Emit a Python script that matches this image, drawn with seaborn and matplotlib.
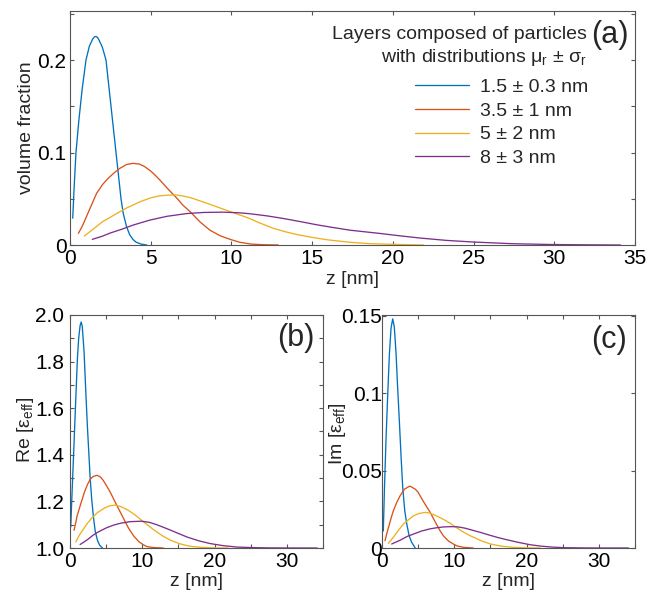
import numpy as np
import pandas as pd
import matplotlib
matplotlib.use("Agg")
import matplotlib.pyplot as plt
import seaborn as sns
from matplotlib.ticker import FixedLocator, FixedFormatter
from matplotlib.lines import Line2D

# ---------------- data ----------------
series_labels = ["1.5 ± 0.3 nm", "3.5 ± 1 nm", "5 ± 2 nm", "8 ± 3 nm"]
colors = ["#0072BD", "#D95319", "#EDB120", "#7E2F8E"]
legend_title = "Layers composed of particles\nwith distributions $\\mu_\\mathrm{r}$ ± $\\sigma_\\mathrm{r}$"

# (a) volume fraction
a_blue_z = [0.17, 0.25, 0.37, 0.55, 0.75, 0.99, 1.2, 1.4, 1.5, 1.6, 1.7, 1.8, 2.0, 2.1, 2.23, 2.54, 2.85, 3.16, 3.3, 3.5, 3.7, 3.9, 4.1, 4.4, 4.75]
a_blue_v = [0.029, 0.06, 0.10, 0.135, 0.168, 0.20, 0.215, 0.2225, 0.2248, 0.2255, 0.2245, 0.2215, 0.214, 0.208, 0.20, 0.15, 0.10, 0.05, 0.034, 0.02, 0.011, 0.006, 0.003, 0.001, 0.0]
a_red_z = [0.52, 0.75, 0.93, 1.1, 1.3, 1.5, 1.65, 1.85, 2.0, 2.25, 2.48, 2.8, 3.1, 3.5, 3.9, 4.3, 4.6, 5.0, 5.3, 5.58, 6.1, 6.6, 7.0, 7.5, 8.05, 8.67, 9.3, 9.9, 10.5, 11.2, 12.0, 12.9]
a_red_v = [0.0126, 0.02, 0.027, 0.034, 0.042, 0.050, 0.056, 0.061, 0.065, 0.070, 0.074, 0.079, 0.083, 0.087, 0.0883, 0.0875, 0.085, 0.080, 0.075, 0.070, 0.060, 0.051, 0.043, 0.035, 0.025, 0.016, 0.010, 0.0062, 0.003, 0.001, 0.0003, 0.0]
a_yel_z = [0.89, 1.2, 1.5, 2.0, 2.5, 2.89, 3.5, 4.0, 4.34, 5.0, 5.5, 6.1, 6.6, 7.0, 7.5, 8.0, 8.5, 9.3, 10.1, 11.0, 11.8, 12.6, 13.3, 14.0, 15.1, 16.0, 17.3, 18.5, 19.8, 21.0, 21.9]
a_yel_v = [0.0097, 0.014, 0.018, 0.025, 0.030, 0.034, 0.040, 0.044, 0.0468, 0.051, 0.053, 0.054, 0.054, 0.053, 0.051, 0.048, 0.045, 0.040, 0.035, 0.0295, 0.0235, 0.018, 0.0145, 0.0115, 0.0079, 0.0055, 0.003, 0.0015, 0.0008, 0.0003, 0.0]
a_pur_z = [1.38, 2.0, 2.5, 3.2, 3.92, 4.96, 6.0, 7.23, 8.3, 9.5, 10.5, 11.15, 12.2, 13.2, 14.3, 15.3, 16.3, 17.35, 18.3, 19.2, 20.4, 21.7, 23.3, 25.0, 27.4, 29.9, 32.0, 34.1]
a_pur_v = [0.0061, 0.0095, 0.013, 0.017, 0.0216, 0.027, 0.031, 0.034, 0.0352, 0.0355, 0.0348, 0.0338, 0.0315, 0.0287, 0.0252, 0.0218, 0.0189, 0.016, 0.0142, 0.0125, 0.010, 0.0075, 0.005, 0.0032, 0.0014, 0.0005, 0.0002, 0.0]

# (b) Re[eps_eff]
b_blue_z = [0.1, 0.3, 0.56, 0.8, 1.02, 1.2, 1.4, 1.55, 1.7, 1.95, 2.2, 2.41, 2.6, 2.78, 3.0, 3.24, 3.5, 3.8, 4.1, 4.5]
b_blue_v = [1.09, 1.25, 1.45, 1.64, 1.81, 1.90, 1.955, 1.97, 1.95, 1.84, 1.66, 1.52, 1.41, 1.305, 1.21, 1.133, 1.07, 1.033, 1.012, 1.0]
b_red_z = [0.56, 0.8, 1.0, 1.25, 1.49, 1.75, 2.0, 2.41, 2.8, 3.2, 3.75, 4.2, 4.6, 5.0, 5.56, 6.2, 6.94, 7.4, 8.1, 8.8, 9.5, 10.2, 10.65, 11.5, 12.9]
b_red_v = [1.076, 1.11, 1.14, 1.165, 1.19, 1.215, 1.24, 1.272, 1.295, 1.307, 1.312, 1.305, 1.29, 1.27, 1.24, 1.20, 1.155, 1.127, 1.085, 1.052, 1.028, 1.013, 1.006, 1.002, 1.0]
b_yel_z = [0.79, 1.2, 1.5, 2.0, 2.41, 3.0, 3.8, 4.8, 5.5, 6.2, 6.94, 8.0, 9.0, 10.1, 11.5, 12.9, 14.0, 15.2, 16.5, 18.0, 20.0, 21.9]
b_yel_v = [1.026, 1.05, 1.065, 1.088, 1.106, 1.128, 1.152, 1.172, 1.181, 1.184, 1.179, 1.163, 1.142, 1.114, 1.08, 1.05, 1.032, 1.018, 1.008, 1.003, 1.0005, 1.0]
b_pur_z = [1.4, 2.0, 2.5, 3.2, 3.8, 5.0, 6.0, 6.94, 8.3, 9.9, 11.0, 12.0, 13.4, 14.8, 16.2, 17.8, 19.4, 21.2, 23.1, 25.5, 27.6, 30.0, 34.2]
b_pur_v = [1.015, 1.027, 1.038, 1.055, 1.067, 1.086, 1.098, 1.106, 1.113, 1.115, 1.11, 1.10, 1.083, 1.065, 1.047, 1.031, 1.019, 1.010, 1.004, 1.0015, 1.0005, 1.0001, 1.0]

# (c) Im[eps_eff]
c_blue_z = [0.18, 0.35, 0.56, 0.8, 1.02, 1.25, 1.48, 1.7, 1.94, 2.15, 2.4, 2.65, 2.87, 3.15, 3.43, 3.75, 4.1, 4.6]
c_blue_v = [0.011, 0.04, 0.071, 0.10, 0.125, 0.142, 0.148, 0.143, 0.126, 0.105, 0.082, 0.058, 0.039, 0.024, 0.0154, 0.008, 0.0037, 0.0]
c_red_z = [0.42, 0.7, 1.0, 1.3, 1.57, 2.0, 2.5, 3.1, 3.85, 4.6, 5.0, 5.6, 6.2, 6.67, 7.4, 8.05, 8.5, 9.2, 9.9, 10.4, 11.3, 12.6]
c_red_v = [0.0047, 0.010, 0.015, 0.020, 0.024, 0.029, 0.0337, 0.038, 0.040, 0.038, 0.036, 0.031, 0.0265, 0.023, 0.0165, 0.011, 0.0078, 0.0045, 0.0025, 0.0013, 0.0004, 0.0]
c_yel_z = [0.88, 1.5, 2.2, 2.96, 3.6, 4.35, 5.1, 6.0, 6.67, 7.5, 8.5, 9.44, 9.9, 11.0, 12.2, 12.7, 13.8, 15.0, 16.5, 18.2, 20.0, 21.9]
c_yel_v = [0.003, 0.0065, 0.011, 0.0154, 0.018, 0.0208, 0.0223, 0.023, 0.0225, 0.0208, 0.0185, 0.016, 0.0144, 0.011, 0.0079, 0.0069, 0.0045, 0.0026, 0.0012, 0.0004, 0.0001, 0.0]
c_pur_z = [1.34, 2.5, 3.5, 4.35, 5.5, 6.67, 7.6, 8.5, 9.6, 10.4, 11.5, 12.5, 13.6, 14.8, 16.0, 17.3, 18.9, 20.5, 22.0, 23.5, 25.2, 28.0, 31.0, 34.1]
c_pur_v = [0.0026, 0.005, 0.0075, 0.009, 0.011, 0.0124, 0.0131, 0.0136, 0.0138, 0.0137, 0.0128, 0.0115, 0.0101, 0.0084, 0.0068, 0.0053, 0.0036, 0.0021, 0.0012, 0.0006, 0.0002, 0.00005, 0.0, 0.0]

x_ticks_a = [0, 5, 10, 15, 20, 25, 30, 35]
y_ticks_a = [0, 0.05, 0.1, 0.15, 0.2, 0.25]
y_labels_a = ["0", "", "0.1", "", "0.2", ""]
x_ticks_bc = [0, 5, 10, 15, 20, 25, 30, 35]
x_labels_bc = ["0", "", "10", "", "20", "", "30", ""]
y_ticks_b = [1.0, 1.1, 1.2, 1.3, 1.4, 1.5, 1.6, 1.7, 1.8, 1.9, 2.0]
y_labels_b = ["1.0", "", "1.2", "", "1.4", "", "1.6", "", "1.8", "", "2.0"]
y_ticks_c = [0, 0.05, 0.1, 0.15]
y_labels_c = ["0", "0.05", "0.1", "0.15"]


def long_df(zs, vs):
    frames = []
    for lab, z, v in zip(series_labels, zs, vs):
        frames.append(pd.DataFrame({"z": z, "v": v, "series": lab}))
    return pd.concat(frames, ignore_index=True)


df_a = long_df([a_blue_z, a_red_z, a_yel_z, a_pur_z], [a_blue_v, a_red_v, a_yel_v, a_pur_v])
df_b = long_df([b_blue_z, b_red_z, b_yel_z, b_pur_z], [b_blue_v, b_red_v, b_yel_v, b_pur_v])
df_c = long_df([c_blue_z, c_red_z, c_yel_z, c_pur_z], [c_blue_v, c_red_v, c_yel_v, c_pur_v])

# ---------------- style ----------------
sns.set_theme(style="ticks")
plt.rcParams["font.family"] = ["Liberation Sans", "DejaVu Sans"]
plt.rcParams["mathtext.fontset"] = "custom"
plt.rcParams["mathtext.rm"] = "Liberation Sans"
plt.rcParams["mathtext.it"] = "Liberation Sans"
plt.rcParams["mathtext.bf"] = "Liberation Sans:bold"
plt.rcParams["axes.edgecolor"] = "#555555"
plt.rcParams["axes.linewidth"] = 0.8

palette = dict(zip(series_labels, colors))

fig = plt.figure(figsize=(6.57, 5.98), dpi=100)
W, H = 657.0, 598.0


def add_ax(l, t, r, b):
    return fig.add_axes([l / W, 1 - b / H, (r - l) / W, (b - t) / H])


ax_a = add_ax(70, 11, 635, 245)
ax_b = add_ax(70, 315, 323, 548)
ax_c = add_ax(382, 315, 635, 548)

spline = dict(sort=True, estimator=None, linewidth=0.95, legend=False)
sns.lineplot(data=df_a, x="z", y="v", hue="series", palette=palette, ax=ax_a, **spline)
sns.lineplot(data=df_b, x="z", y="v", hue="series", palette=palette, ax=ax_b, **spline)
sns.lineplot(data=df_c, x="z", y="v", hue="series", palette=palette, ax=ax_c, **spline)

TICK_FS = 15
LAB_FS = 14


def style_ax(ax, xt, xl, yt, yl, xlim, ylim, ypad):
    ax.set_xlim(*xlim)
    ax.set_ylim(*ylim)
    ax.xaxis.set_major_locator(FixedLocator(xt))
    ax.xaxis.set_major_formatter(FixedFormatter(xl))
    ax.yaxis.set_major_locator(FixedLocator(yt))
    ax.yaxis.set_major_formatter(FixedFormatter(yl))
    ax.tick_params(direction="in", length=3, width=0.8, color="#555555",
                   top=True, right=True, labelsize=TICK_FS, labelcolor="black")
    ax.tick_params(axis="x", pad=3)
    ax.tick_params(axis="y", pad=ypad)
    for s in ax.spines.values():
        s.set_visible(True)
        s.set_color("#555555")
        s.set_linewidth(0.8)


style_ax(ax_a, x_ticks_a, [str(t) for t in x_ticks_a], y_ticks_a, y_labels_a, (0, 35), (0, 0.253), 2.5)
style_ax(ax_b, x_ticks_bc, x_labels_bc, y_ticks_b, y_labels_b, (0, 35), (1.0, 2.0), 4)
style_ax(ax_c, x_ticks_bc, x_labels_bc, y_ticks_c, y_labels_c, (0, 35), (0, 0.1505), 0)

ax_a.set_xlabel("z [nm]", fontsize=LAB_FS)
ax_a.set_ylabel("volume fraction", fontsize=LAB_FS)
ax_b.set_xlabel("z [nm]", fontsize=LAB_FS)
ax_b.set_ylabel(r"Re [$\varepsilon_{\mathrm{eff}}$]", fontsize=LAB_FS)
ax_c.set_xlabel("z [nm]", fontsize=LAB_FS)
ax_c.set_ylabel(r"Im [$\varepsilon_{\mathrm{eff}}$]", fontsize=LAB_FS)

ax_a.xaxis.set_label_coords(0.5, -(279 - 245) / 234)
ax_a.yaxis.set_label_coords((27 - 70) / 565, 0.5)
ax_b.xaxis.set_label_coords(0.5, -(581 - 548) / 233)
ax_b.yaxis.set_label_coords((25 - 70) / 253, 0.505)
ax_c.xaxis.set_label_coords(0.5, -(581 - 548) / 233)
ax_c.yaxis.set_label_coords((338 - 382) / 253, 0.49)
for ax in (ax_a, ax_b, ax_c):
    ax.xaxis.label.set_va("center")
    ax.yaxis.label.set_va("center")

ax_a.text(0.988, 0.897, "(a)", transform=ax_a.transAxes, ha="right", va="center", fontsize=22)
ax_b.text(0.968, 0.901, "(b)", transform=ax_b.transAxes, ha="right", va="center", fontsize=22)
ax_c.text(0.968, 0.893, "(c)", transform=ax_c.transAxes, ha="right", va="center", fontsize=22)

# legend title drawn as right-aligned text, entries as a legend
fig.text(587 / W, 1 - 47 / H, legend_title, ha="right", va="center",
         multialignment="right", fontsize=14, linespacing=1.27)
handles = [Line2D([], [], color=c, lw=0.95) for c in colors]
leg = ax_a.legend(handles, series_labels,
                  loc="upper right", bbox_to_anchor=(588 / W, 1 - 78.5 / H),
                  bbox_transform=fig.transFigure, frameon=False, fontsize=14,
                  handlelength=2.8, handletextpad=0.55, labelspacing=0.31,
                  borderpad=0, borderaxespad=0)

fig.savefig("out.png", dpi=100)
